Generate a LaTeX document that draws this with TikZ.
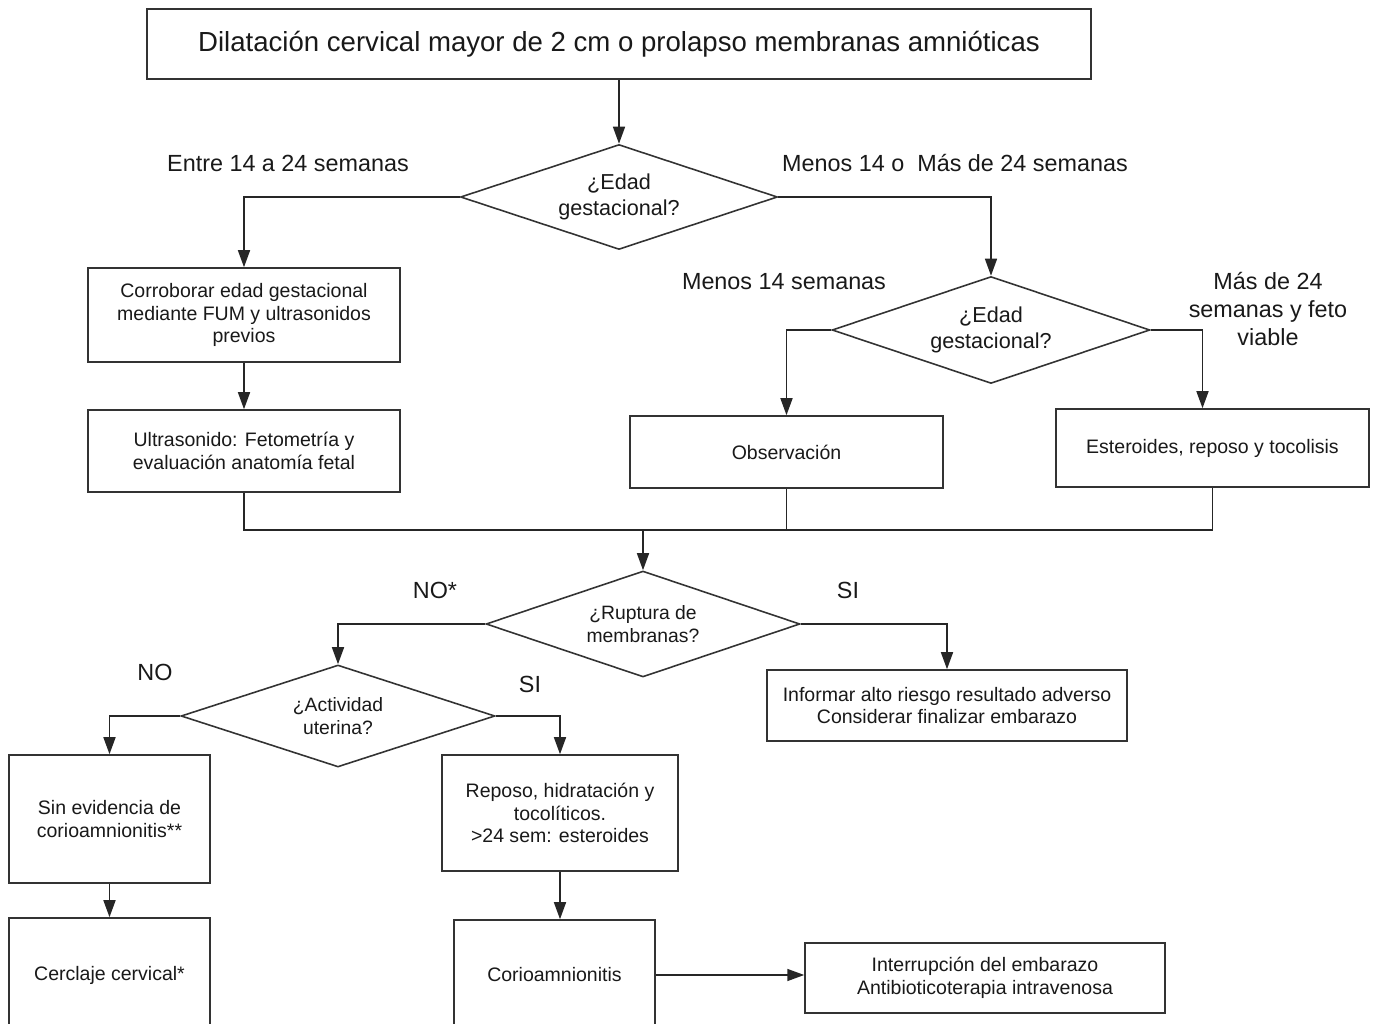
\documentclass[tikz,border=0pt]{standalone}
\usepackage{fontspec}
\setmainfont{Liberation Sans}
\usetikzlibrary{shapes.geometric,arrows.meta}

\begin{document}
\begin{tikzpicture}[x=0.02cm, y=-0.02cm,
    box/.style={rectangle, draw=black!80, line width=0.9pt, fill=white, align=center, inner sep=2pt,
        font=\fontsize{11.1}{13}\selectfont, text=black!90},
    decision/.style={diamond, draw=black!80, line width=0.9pt, fill=white, align=center, inner sep=0pt,
        aspect=3, text=black!90},
    lbl/.style={align=center, font=\fontsize{13.3}{16}\selectfont, text=black!90},
    flow/.style={draw=black!85, line width=0.9pt, -{Triangle[length=0.34cm, width=0.24cm]}},
    link/.style={draw=black!85, line width=0.9pt}]
    \useasboundingbox (0,0) rectangle (1374,1024);

    % Draw nodes
    \node[box, minimum width=18.88cm, minimum height=1.4cm, font=\fontsize{15.7}{18}\selectfont] (start) at (619,44)
        {Dilatación cervical mayor de 2 cm o prolapso membranas amnióticas};
    \node[decision, minimum width=6.34cm, minimum height=2.1cm, font=\fontsize{12.3}{14.5}\selectfont] (edad1) at (619,197)
        {¿Edad\\gestacional?};
    \node[box, minimum width=6.24cm, minimum height=1.88cm] (corrob) at (244,315)
        {Corroborar edad gestacional\\mediante FUM y ultrasonidos\\previos};
    \node[box, minimum width=6.24cm, minimum height=1.64cm] (ultra) at (244,451)
        {Ultrasonido: Fetometría y\\evaluación anatomía fetal};
    \node[decision, minimum width=6.36cm, minimum height=2.14cm, font=\fontsize{12.3}{14.5}\selectfont] (edad2) at (991,330)
        {¿Edad\\gestacional?};
    \node[box, minimum width=6.26cm, minimum height=1.44cm] (observ) at (786.5,452) {Observación};
    \node[box, minimum width=6.26cm, minimum height=1.56cm] (esteroid) at (1212.5,448)
        {Esteroides, reposo y tocolisis};
    \coordinate (junta) at (643,530);
    \node[decision, minimum width=6.28cm, minimum height=2.12cm, font=\fontsize{11}{13.5}\selectfont] (ruptura) at (643,624)
        {¿Ruptura de\\membranas?};
    \node[box, minimum width=7.2cm, minimum height=1.42cm] (informar) at (947,705.5)
        {Informar alto riesgo resultado adverso\\Considerar finalizar embarazo};
    \node[decision, minimum width=6.28cm, minimum height=2.04cm, font=\fontsize{11}{13.5}\selectfont] (activ) at (338,716)
        {¿Actividad\\uterina?};
    \node[box, minimum width=4.02cm, minimum height=2.56cm] (sinevid) at (109.5,819)
        {Sin evidencia de\\corioamnionitis**};
    \node[box, minimum width=4.72cm, minimum height=2.32cm] (reposo) at (560,813)
        {Reposo, hidratación y\\tocolíticos.\\>24 sem: esteroides};
    \node[box, minimum width=4.02cm, minimum height=2.28cm] (cerclaje) at (109.5,975) {Cerclaje cervical*};
    \node[box, minimum width=4.02cm, minimum height=2.2cm] (corio) at (554.5,975) {Corioamnionitis};
    \node[box, minimum width=7.2cm, minimum height=1.4cm] (interrup) at (985,978)
        {Interrupción del embarazo\\Antibioticoterapia intravenosa};

    % Draw connections
    \draw[flow] (start) -- (edad1);
    \draw[flow] (edad1.west) -| (corrob.north);
    \draw[flow] (edad1.east) -| (edad2.north);
    \draw[flow] (corrob) -- (ultra);
    \draw[flow] (edad2.west) -| (observ.north);
    \draw[flow] (edad2.east) -| ([xshift=-0.2cm]esteroid.north);
    \draw[link] (ultra.south) |- (junta);
    \draw[link] (esteroid.south) |- (junta);
    \draw[link] (observ.south) -- (observ.south |- junta);
    \draw[flow] (junta) -- (ruptura.north);
    \draw[flow] (ruptura.west) -| (activ.north);
    \draw[flow] (ruptura.east) -| (informar.north);
    \draw[flow] (activ.west) -| (sinevid.north);
    \draw[flow] (activ.east) -| (reposo.north);
    \draw[flow] (sinevid) -- (cerclaje);
    \draw[flow] (reposo.south) -- (reposo.south |- corio.north);
    \draw[flow] (corio.east) -- (corio.east -| interrup.west);

    % Labels
    \node[lbl] (l1) at (288,163) {Entre 14 a 24 semanas};
    \node[lbl] (l2) at (955,163) {Menos 14 o\ \ Más de 24 semanas};
    \node[lbl] (l3) at (784,282) {Menos 14 semanas};
    \node[lbl, font=\fontsize{13.3}{15.8}\selectfont] (l4) at (1268,309) {Más de 24\\semanas y feto\\viable};
    \node[lbl] (l5) at (435,590) {NO*};
    \node[lbl] (l6) at (848,590) {SI};
    \node[lbl] (l7) at (155,672) {NO};
    \node[lbl] (l8) at (530,684) {SI};
\end{tikzpicture}
\end{document}
